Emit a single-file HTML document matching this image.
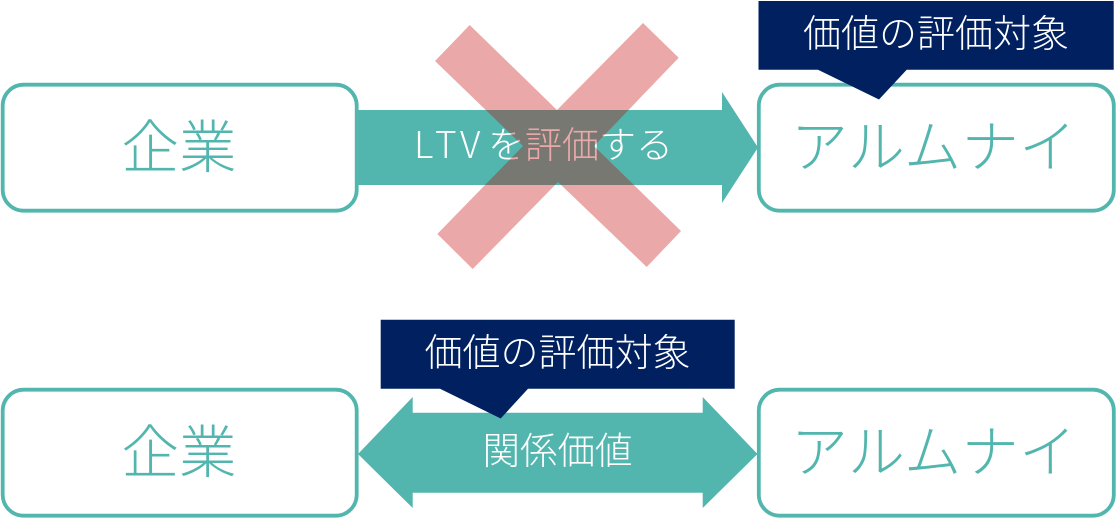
<!DOCTYPE html>
<html lang="ja">
<head>
<meta charset="utf-8">
<style>
html,body{margin:0;padding:0;background:#fff;width:1116px;height:522px;overflow:hidden}
svg{display:block}
text{font-family:"Noto Sans CJK JP","Liberation Sans",sans-serif;font-weight:300}
</style>
</head>
<body>
<svg width="1116" height="522" viewBox="0 0 1116 522" xmlns="http://www.w3.org/2000/svg">
<rect x="2.700" y="84.700" width="354" height="126" rx="21" fill="#fff" stroke="#53b6ae" stroke-width="3.800"/>
<rect x="758.800" y="84.700" width="355" height="126" rx="21" fill="#fff" stroke="#53b6ae" stroke-width="3.800"/>
<rect x="2.700" y="389.700" width="354" height="126" rx="21" fill="#fff" stroke="#53b6ae" stroke-width="3.800"/>
<rect x="758.800" y="389.700" width="355" height="126" rx="21" fill="#fff" stroke="#53b6ae" stroke-width="3.800"/>

<polygon points="358,110 722,110 722,92 758,147.500 722,203 722,185 358,185" fill="#53b6ae"/>
<polygon points="358,454 412.700,397 412.700,412.700 702.700,412.700 702.700,397 757.500,454 702.700,508 702.700,492.700 412.700,492.700 412.700,508" fill="#53b6ae"/>

<polygon points="758.500,1 1113.700,1 1113.700,69.700 906.700,69.700 879,99.500 818,69.700 758.500,69.700" fill="#002060"/>
<polygon points="380.700,319.700 734.700,319.700 734.700,388.700 528,388.700 500.700,418.500 440,388.700 380.700,388.700" fill="#002060"/>

<text x="179" y="167.500" font-size="57.500" text-anchor="middle" fill="#53b6ae">企業</text>
<text x="933.500" y="167" font-size="57" text-anchor="middle" fill="#53b6ae" textLength="285">アルムナイ</text>
<text x="179" y="472.500" font-size="57.500" text-anchor="middle" fill="#53b6ae">企業</text>
<text x="933.500" y="472" font-size="57" text-anchor="middle" fill="#53b6ae" textLength="285">アルムナイ</text>

<text x="936" y="47" font-size="38" text-anchor="middle" fill="#fff" textLength="266">価値の評価対象</text>
<text x="557.500" y="366" font-size="38" text-anchor="middle" fill="#fff" textLength="266">価値の評価対象</text>
<text x="557.500" y="464" font-size="37.500" text-anchor="middle" fill="#fff" textLength="150">関係価値</text>
<text y="158" font-size="37" fill="#fff" x="414 435 460 488 525 562 599 636">LTVを評価する</text>

<polygon points="469.700,25 557,110 643,23 678.700,57.700 594,146 681,231 646.700,267 558,182 472.700,269 437.300,234 523,146 435,61" fill="#c00000" fill-opacity="0.34"/>
</svg>
</body>
</html>
